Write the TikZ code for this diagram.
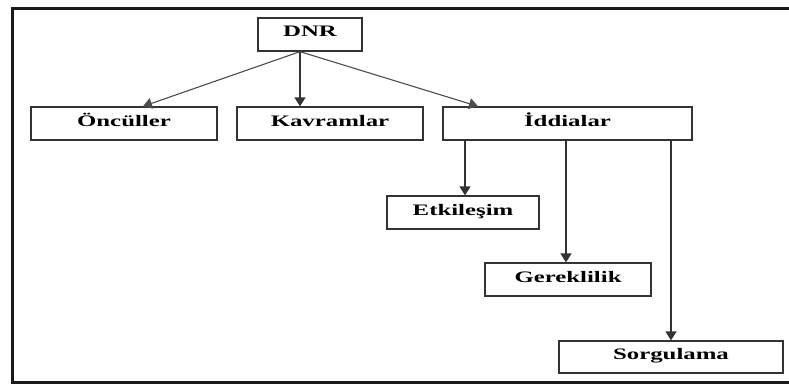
\documentclass[tikz,border=0pt]{standalone}
\usepackage{fontspec}
\usepackage{graphicx}
\setmainfont{Liberation Serif}
\usetikzlibrary{arrows.meta}
\newcommand{\wtxt}[1]{\scalebox{1.55}[1]{#1}}
\tikzset{
  box/.style={draw=black!80, line width=1.3pt, inner sep=0pt, text height=11pt, text depth=6pt,
              font=\fontsize{16}{19}\selectfont\bfseries},
  conn/.style={draw=black!80, line width=1.5pt, -{Triangle[width=11pt,length=9pt]}},
  slant/.style={draw=black!70, line width=1.1pt, -{Triangle[width=11pt,length=9pt]}},
  frame/.style={draw=black!90, line width=3pt}
}
\begin{document}
\begin{tikzpicture}[x=1pt,y=-1pt]
\useasboundingbox (0,0) rectangle (789,385);
\begin{scope}
\clip (0,0) rectangle (789,385);
\draw[frame] (800,8.5) -- (12.5,8.5) -- (12.5,382) -- (800,382);
\end{scope}
\node[box, minimum width=104pt, minimum height=33pt] (dnr) at (310,34.5) {\wtxt{DNR}};
\node[box, minimum width=186pt, minimum height=33pt] (onc) at (124,123.5) {\wtxt{Öncüller}};
\node[box, minimum width=186pt, minimum height=33pt] (kav) at (330,123.5) {\wtxt{Kavramlar}};
\node[box, minimum width=249pt, minimum height=33pt] (idd) at (567.5,123.5) {\wtxt{İddialar}};
\node[box, minimum width=152pt, minimum height=33pt] (etk) at (463,212.5) {\wtxt{Etkileşim}};
\node[box, minimum width=166pt, minimum height=33pt] (ger) at (568,279.5) {\wtxt{Gereklilik}};
\node[box, minimum width=224pt, minimum height=32pt] (sor) at (671,357) {\wtxt{Sorgulama}};
\coordinate (top) at (dnr.south -| 300,0);
\draw[slant] (top) -- (onc.north -| 143,0);
\draw[conn] (top) -- (kav.north -| 300,0);
\draw[slant] (top) -- (idd.north -| 478,0);
\draw[conn] (idd.south -| 465,0) -- (etk.north -| 465,0);
\draw[conn] (idd.south -| 566,0) -- (ger.north -| 566,0);
\draw[conn] (idd.south -| 671,0) -- (sor.north -| 671,0);
\end{tikzpicture}
\end{document}
